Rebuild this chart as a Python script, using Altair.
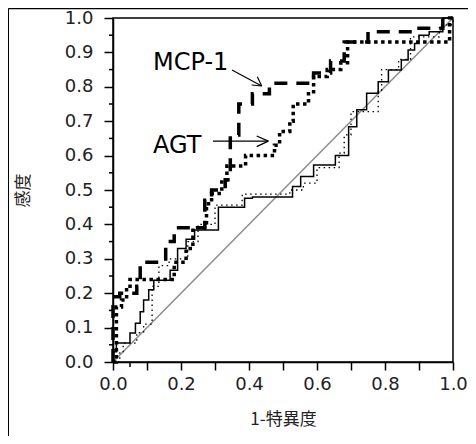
import altair as alt
import pandas as pd

# ROC operating points (1-specificity, sensitivity); drawn as step-after paths
mcp_x = [0, 0, 0.02, 0.07, 0.08, 0.155, 0.18, 0.27, 0.29, 0.33, 0.345, 0.37, 0.41, 0.46, 0.59, 0.64, 0.68, 0.75, 0.90, 0.97, 1.0]
mcp_y = [0, 0.19, 0.20, 0.22, 0.29, 0.35, 0.39, 0.47, 0.50, 0.53, 0.66, 0.75, 0.78, 0.81, 0.84, 0.875, 0.93, 0.96, 0.97, 1.0, 1.0]

agt_x = [0, 0.01, 0.025, 0.04, 0.05, 0.18, 0.215, 0.235, 0.275, 0.29, 0.32, 0.335, 0.39, 0.475, 0.49, 0.52, 0.53, 0.575, 0.59, 0.63, 0.67, 0.69, 0.99, 1.0]
agt_y = [0, 0.16, 0.18, 0.21, 0.24, 0.29, 0.33, 0.39, 0.46, 0.49, 0.53, 0.57, 0.60, 0.63, 0.67, 0.70, 0.75, 0.78, 0.83, 0.85, 0.87, 0.93, 1.0, 1.0]

solid_x = [0, 0, 0.01, 0.05, 0.066, 0.08, 0.09, 0.105, 0.12, 0.168, 0.19, 0.215, 0.24, 0.31, 0.387, 0.41, 0.528, 0.552, 0.59, 0.654, 0.693, 0.717, 0.746, 0.78, 0.81, 0.848, 0.868, 0.887, 0.90, 0.93, 0.97, 1.0]
solid_y = [0, 0.03, 0.055, 0.084, 0.113, 0.146, 0.18, 0.21, 0.238, 0.267, 0.33, 0.357, 0.384, 0.45, 0.476, 0.48, 0.51, 0.539, 0.573, 0.60, 0.684, 0.733, 0.781, 0.815, 0.849, 0.878, 0.907, 0.926, 0.95, 0.96, 1.0, 1.0]

dot_x = [0, 0.02, 0.03, 0.07, 0.09, 0.115, 0.135, 0.165, 0.22, 0.25, 0.30, 0.38, 0.52, 0.56, 0.60, 0.665, 0.68, 0.70, 0.78, 0.79, 0.84, 0.875, 0.96, 1.0]
dot_y = [0, 0.03, 0.055, 0.085, 0.11, 0.22, 0.28, 0.30, 0.35, 0.40, 0.456, 0.488, 0.50, 0.52, 0.565, 0.607, 0.66, 0.728, 0.79, 0.85, 0.88, 0.945, 0.98, 1.0]

diag_x = [0, 1]
diag_y = [0, 1]

y_ticks = [0, 0.1, 0.2, 0.3, 0.4, 0.5, 0.6, 0.7, 0.8, 0.9, 1.0]
y_minor = [0.05, 0.15, 0.25, 0.35, 0.45, 0.55, 0.65, 0.75, 0.85, 0.95]
x_ticks = [0, 0.1, 0.2, 0.3, 0.4, 0.5, 0.6, 0.7, 0.8, 0.9, 1.0]
x_minor = [0.05]

ann_labels = ["MCP-1", "AGT"]
ann_x = [0.1176, 0.1176]
ann_y = [0.869, 0.628]

# arrow segments (shaft + two wings each)
arr_x1 = [0.35, 0.4374, 0.4374, 0.294, 0.4568, 0.4568]
arr_y1 = [0.849, 0.8023, 0.8023, 0.642, 0.642, 0.642]
arr_x2 = [0.4374, 0.4244, 0.408, 0.4568, 0.4226, 0.4226]
arr_y2 = [0.8023, 0.8294, 0.8052, 0.642, 0.657, 0.626]

W, H = 340, 344
PAD_L, PAD_T, PAD_R, PAD_B = 105, 10, 15, 74

def frame(xs, ys):
    return pd.DataFrame({"fpr": xs, "tpr": ys, "ord": list(range(len(xs)))})

xscale = alt.Scale(domain=[0, 1], nice=False, zero=False)
yscale = alt.Scale(domain=[0, 1], nice=False, zero=False)

xaxis = alt.Axis(values=x_ticks, format=".1f",
                 labelExpr="round(datum.value*10) % 2 == 0 ? format(datum.value, '.1f') : ''",
                 tickSize=8, labelPadding=5, labelFlush=False, titlePadding=18, grid=False)
yaxis = alt.Axis(values=y_ticks, format=".1f", tickSize=9, labelPadding=11,
                 labelFlush=False, titlePadding=32, grid=False)

X = alt.X("fpr:Q", scale=xscale, axis=xaxis, title="1-特異度")
Y = alt.Y("tpr:Q", scale=yscale, axis=yaxis, title="感度")

diag = alt.Chart(frame(diag_x, diag_y)).mark_line(color="#8c8c8c", strokeWidth=1.5).encode(x=X, y=Y, order="ord:Q")

def roc(xs, ys, width, dash):
    return alt.Chart(frame(xs, ys)).mark_line(
        color="black", strokeWidth=width, strokeDash=dash, strokeCap="butt",
        interpolate="step-after").encode(x=X, y=Y, order="ord:Q")

solid = roc(solid_x, solid_y, 1.5, [1, 0])
dotted = roc(dot_x, dot_y, 1.3, [1.5, 3.5])
agt = roc(agt_x, agt_y, 3.5, [3.5, 3.5])
mcp = roc(mcp_x, mcp_y, 3.5, [13, 9])

yminor = alt.Chart(pd.DataFrame({"tpr": y_minor})).mark_rule(color="black", strokeWidth=1.5).encode(
    y=Y, x=alt.value(-4), x2=alt.value(0))
xminor = alt.Chart(pd.DataFrame({"fpr": x_minor})).mark_rule(color="black", strokeWidth=1.5).encode(
    x=X, y=alt.value(H), y2=alt.value(H + 5))

texts = alt.Chart(pd.DataFrame({"fpr": ann_x, "tpr": ann_y, "label": ann_labels})).mark_text(
    align="left", baseline="middle", fontSize=24, font="DejaVu Sans", color="black").encode(
    x=X, y=Y, text="label:N")

arrows = alt.Chart(pd.DataFrame({"fpr": arr_x1, "tpr": arr_y1, "fpr2": arr_x2, "tpr2": arr_y2})).mark_rule(
    color="black", strokeWidth=1.2).encode(x=X, y=Y, x2="fpr2:Q", y2="tpr2:Q")

dummy = alt.Data(values=[{"a": 1}])
outer_left = alt.Chart(dummy).mark_rule(color="black", strokeWidth=1.5).encode(
    x=alt.value(-PAD_L + 0.25), y=alt.value(-PAD_T + 0.5), y2=alt.value(H + PAD_B))
outer_top = alt.Chart(dummy).mark_rule(color="black", strokeWidth=1.5).encode(
    x=alt.value(-PAD_L + 0.25), x2=alt.value(W + PAD_R), y=alt.value(-PAD_T + 0.5))

chart = alt.layer(diag, solid, dotted, agt, mcp, yminor, xminor, arrows, texts, outer_left, outer_top).properties(
    width=W, height=H,
    autosize=alt.AutoSizeParams(type="none"),
    padding={"left": PAD_L, "top": PAD_T, "right": PAD_R, "bottom": PAD_B},
).configure_view(stroke="black", strokeWidth=1.5).configure_axis(
    domainColor="black", domainWidth=1.5, tickColor="black", tickWidth=1.5,
    labelFont="DejaVu Sans", labelFontSize=18, labelColor="#222",
    titleFont="Noto Sans CJK JP", titleFontSize=17, titleFontWeight="normal", titleColor="#222",
)

chart.save("out.html", embed_options={"renderer": "svg", "actions": False})
